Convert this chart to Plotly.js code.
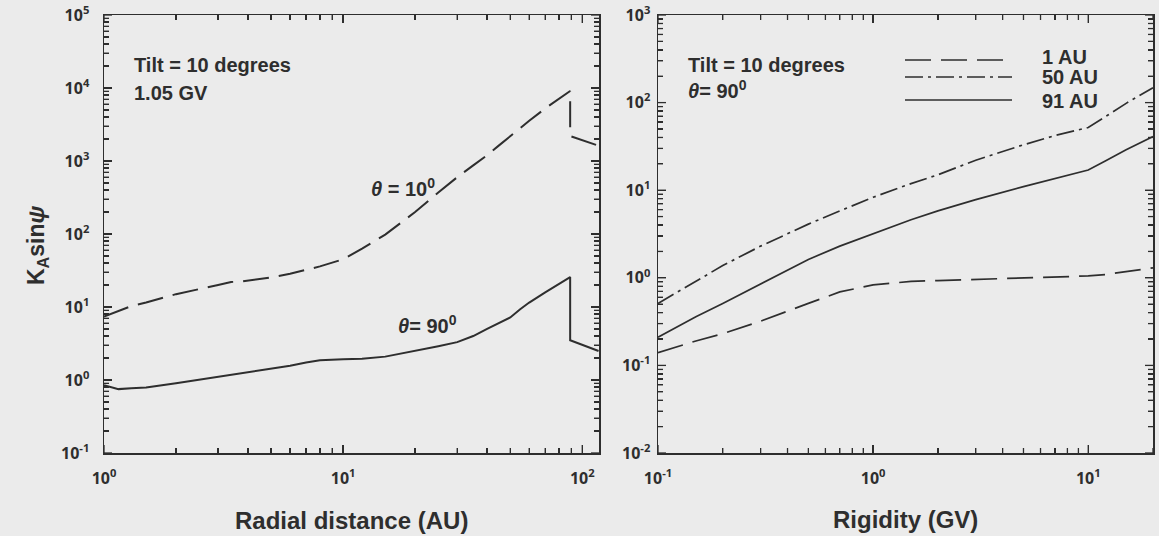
<!DOCTYPE html>
<html>
<head>
<meta charset="utf-8">
<script src="https://cdn.plot.ly/plotly-3.0.1.min.js"></script>
<style>
  html, body { margin: 0; padding: 0; background: #ebebeb; }
  #chart { width: 1159px; height: 536px; }
</style>
</head>
<body>
<div id="chart"></div>
<script>
// ---------- Data: left panel (K_A sin psi vs radial distance, 1.05 GV) ----------
const radialAU = [1, 1.15, 1.3, 1.5, 2, 3, 3.4, 3.8, 5, 6, 7, 8, 10, 12, 15, 20, 25, 30, 35, 40, 45, 50, 55, 60, 70, 80, 89, 89, 117];
const theta10 = [7.4, 8.8, 10.3, 11.5, 15, 20, 22, 22.5, 25.5, 28.5, 32, 36, 45, 63, 98, 200, 370, 600, 870, 1200, 1650, 2200, 2850, 3550, 5250, 7200, 9100, 2200, 1620];
const theta90 = [0.85, 0.75, 0.77, 0.79, 0.90, 1.10, 1.17, 1.24, 1.45, 1.57, 1.74, 1.86, 1.93, 1.95, 2.09, 2.5, 2.9, 3.3, 4.0, 5.0, 6.0, 7.2, 9.3, 11.5, 15.9, 21, 25.7, 3.5, 2.5];

// ---------- Data: right panel (K_A sin psi vs rigidity, theta = 90 deg) ----------
const rigidityGV = [0.1, 0.15, 0.2, 0.3, 0.5, 0.7, 1.0, 1.5, 2, 3, 5, 7, 10, 12, 15, 20];
const au1  = [0.14, 0.19, 0.23, 0.32, 0.51, 0.69, 0.83, 0.91, 0.93, 0.96, 1.0, 1.02, 1.05, 1.09, 1.17, 1.3];
const au50 = [0.51, 0.91, 1.38, 2.3, 4.1, 5.8, 8.3, 11.9, 15, 22, 33, 42, 52, 69, 98, 148];
const au91 = [0.21, 0.36, 0.51, 0.85, 1.62, 2.3, 3.2, 4.6, 5.8, 7.8, 11, 13.5, 17, 21.5, 29, 41];

// ---------- Tick labels ----------
const leftXTickVals = [1, 10, 100];
const leftXTickText = ['10<sup>0</sup>', '10<sup>1</sup>', '10<sup>2</sup>'];
const leftYTickVals = [0.1, 1, 10, 100, 1000, 10000, 100000];
const leftYTickText = ['10<sup>-1</sup>', '10<sup>0</sup>', '10<sup>1</sup>', '10<sup>2</sup>', '10<sup>3</sup>', '10<sup>4</sup>', '10<sup>5</sup>'];
const rightXTickVals = [0.1, 1, 10];
const rightXTickText = ['10<sup>-1</sup>', '10<sup>0</sup>', '10<sup>1</sup>'];
const rightYTickVals = [0.01, 0.1, 1, 10, 100, 1000];
const rightYTickText = ['10<sup>-2</sup>', '10<sup>-1</sup>', '10<sup>0</sup>', '10<sup>1</sup>', '10<sup>2</sup>', '10<sup>3</sup>'];

const legendNames = ['1 AU', '50 AU', '91 AU'];

// ---------- helpers (layout only) ----------
const W = 1159, H = 536;
const px = x => x / W;
const py = y => 1 - y / H;
const bold = arr => arr.map(t => '<b>' + t + '</b>');
function minorVals(lo, hi, maxV) {
  const v = [];
  for (let p = lo; p <= hi; p++) for (let k = 2; k <= 9; k++) {
    const val = k * Math.pow(10, p);
    if (val <= maxV * 1.0001) v.push(val);
  }
  return v;
}
const INK = '#2e2e2e';
const FONT = 'Liberation Sans, Arial, Helvetica, sans-serif';
const MAJ = 8, MIN = 5;

function axisBase(extra) {
  return Object.assign({
    type: 'log',
    showgrid: false,
    zeroline: false,
    showline: true,
    linecolor: INK,
    linewidth: 1.5,
    mirror: 'allticks',
    ticks: 'inside',
    ticklen: MAJ,
    tickwidth: 1.3,
    tickcolor: INK,
    tickmode: 'array',
  }, extra);
}
function minorOf(vals) {
  return { tickmode: 'array', tickvals: vals, ticks: 'inside', ticklen: MIN, tickwidth: 1.3, tickcolor: INK, showgrid: false };
}

// backup tick marks as shapes on the axes' own scales (same spots as the axis ticks)
const PLOT_W = 495, PLOT_H = 438;
function xTickShapes(xr, yr, vals, len) {
  const out = [];
  const f = len / PLOT_H;
  vals.forEach(v => {
    out.push({ type: 'line', xref: xr, yref: yr + ' domain', x0: v, x1: v, y0: 0, y1: f, line: { color: INK, width: 1.3 } });
    out.push({ type: 'line', xref: xr, yref: yr + ' domain', x0: v, x1: v, y0: 1, y1: 1 - f, line: { color: INK, width: 1.3 } });
  });
  return out;
}
function yTickShapes(xr, yr, vals, len) {
  const out = [];
  const f = len / PLOT_W;
  vals.forEach(v => {
    out.push({ type: 'line', xref: xr + ' domain', yref: yr, x0: 0, x1: f, y0: v, y1: v, line: { color: INK, width: 1.3 } });
    out.push({ type: 'line', xref: xr + ' domain', yref: yr, x0: 1, x1: 1 - f, y0: v, y1: v, line: { color: INK, width: 1.3 } });
  });
  return out;
}

const DASH = '26px,10px';
const DASHDOT = '18px,5px,3px,5px';

const traces = [
  { x: radialAU, y: theta10, type: 'scatter', mode: 'lines', xaxis: 'x', yaxis: 'y',
    line: { color: INK, width: 2, dash: DASH }, showlegend: false, hoverinfo: 'skip' },
  { x: radialAU, y: theta90, type: 'scatter', mode: 'lines', xaxis: 'x', yaxis: 'y',
    line: { color: INK, width: 2 }, showlegend: false, hoverinfo: 'skip' },
  { x: rigidityGV, y: au1, type: 'scatter', mode: 'lines', xaxis: 'x2', yaxis: 'y2', name: legendNames[0],
    line: { color: INK, width: 1.7, dash: DASH }, showlegend: false, hoverinfo: 'skip' },
  { x: rigidityGV, y: au50, type: 'scatter', mode: 'lines', xaxis: 'x2', yaxis: 'y2', name: legendNames[1],
    line: { color: INK, width: 1.7, dash: DASHDOT }, showlegend: false, hoverinfo: 'skip' },
  { x: rigidityGV, y: au91, type: 'scatter', mode: 'lines', xaxis: 'x2', yaxis: 'y2', name: legendNames[2],
    line: { color: INK, width: 1.7 }, showlegend: false, hoverinfo: 'skip' },
];

const yDom = [py(453), py(15)];

const annFont = { family: FONT, size: 20, color: INK, weight: 'bold' };
function ann(text, x, y, extra) {
  return Object.assign({ text: text, xref: 'paper', yref: 'paper', x: px(x), y: py(y),
    xanchor: 'left', yanchor: 'middle', showarrow: false, font: annFont }, extra || {});
}

const lxMinor = minorVals(0, 1, 117), lyMinor = minorVals(-1, 4, 1e5);
const rxMinor = minorVals(-1, 1, 20), ryMinor = minorVals(-2, 2, 1000);

const tickShapes = [].concat(
  xTickShapes('x', 'y', leftXTickVals, MAJ),
  xTickShapes('x', 'y', lxMinor, MIN),
  yTickShapes('x', 'y', leftYTickVals, MAJ),
  yTickShapes('x', 'y', lyMinor, MIN),
  xTickShapes('x2', 'y2', rightXTickVals, MAJ),
  xTickShapes('x2', 'y2', rxMinor, MIN),
  yTickShapes('x2', 'y2', rightYTickVals, MAJ),
  yTickShapes('x2', 'y2', ryMinor, MIN)
);

const legendShapes = [
  { type: 'line', xref: 'paper', yref: 'paper', x0: px(905), x1: px(1012), y0: py(60), y1: py(60), line: { color: INK, width: 1.7, dash: DASH } },
  { type: 'line', xref: 'paper', yref: 'paper', x0: px(905), x1: px(1012), y0: py(77), y1: py(77), line: { color: INK, width: 1.7, dash: DASHDOT } },
  { type: 'line', xref: 'paper', yref: 'paper', x0: px(905), x1: px(1012), y0: py(100), y1: py(100), line: { color: INK, width: 1.7 } },
];

const layout = {
  width: W, height: H,
  margin: { l: 0, r: 0, t: 0, b: 0 },
  font: { size: 16, color: INK },
  paper_bgcolor: '#ebebeb',
  plot_bgcolor: '#ebebeb',
  showlegend: false,
  xaxis: axisBase({
    domain: [px(104), px(599)], anchor: 'y', range: [0, 2.07],
    tickvals: leftXTickVals, ticktext: bold(leftXTickText), ticklabelstandoff: 10,
    minor: minorOf(lxMinor),
  }),
  yaxis: axisBase({
    domain: yDom, anchor: 'x', range: [-1, 5],
    tickvals: leftYTickVals, ticktext: bold(leftYTickText), ticklabelstandoff: 10,
    minor: minorOf(lyMinor),
  }),
  xaxis2: axisBase({
    domain: [px(658), px(1153)], anchor: 'y2', range: [-1, Math.log10(20)],
    tickvals: rightXTickVals, ticktext: bold(rightXTickText), ticklabelstandoff: 10,
    minor: minorOf(rxMinor),
  }),
  yaxis2: axisBase({
    domain: yDom, anchor: 'x2', range: [-2, 3],
    tickvals: rightYTickVals, ticktext: bold(rightYTickText), ticklabelstandoff: 3,
    minor: minorOf(ryMinor),
  }),
  annotations: [
    ann('Tilt = 10 degrees', 132, 65),
    ann('1.05 GV', 132, 93),
    ann('<i>θ</i> = 10<sup>0</sup>', 369, 187),
    ann('<i>θ</i>= 90<sup>0</sup>', 396, 324),
    ann('Tilt = 10 degrees', 686, 65),
    ann('<i>θ</i>= 90<sup>0</sup>', 686, 90),
    ann(legendNames[0], 1040, 57),
    ann(legendNames[1], 1040, 77),
    ann(legendNames[2], 1040, 101),
    ann('Radial distance (AU)', 351, 520, { xanchor: 'center', font: Object.assign({}, annFont, { size: 24 }) }),
    ann('Rigidity (GV)', 905, 519, { xanchor: 'center', font: Object.assign({}, annFont, { size: 24 }) }),
    ann('K<sub>A</sub>sin<i>ψ</i>', 38, 246, { xanchor: 'center', textangle: -90, font: Object.assign({}, annFont, { size: 23 }) }),
  ],
  shapes: tickShapes.concat(legendShapes),
};

Plotly.newPlot('chart', traces, layout, { staticPlot: true, displayModeBar: false });
</script>
</body>
</html>
